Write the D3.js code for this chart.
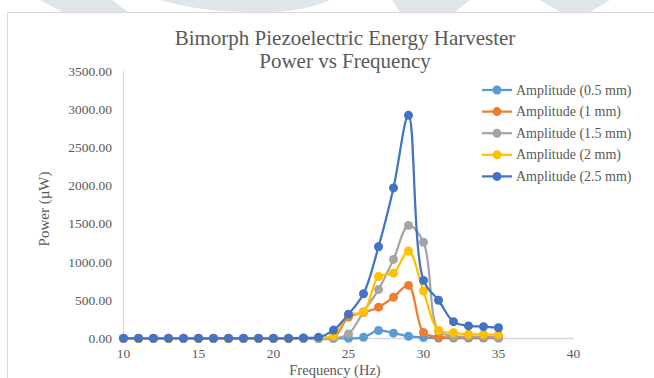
<!DOCTYPE html>
<html>
<head>
  <meta charset='utf-8'>
  <title>Bimorph Piezoelectric Energy Harvester</title>
  <style type='text/css'>
body{
  margin:0;
  background:#fff;
}
svg text{
  font-family:'Liberation Serif','Times New Roman',serif;
  fill:#595959;
}
  </style>
</head>
<body>
<div id='chartContainer'></div>

<script src='https://d3js.org/d3.v7.min.js'></script>
<script type='text/javascript'>

// data (Hz, µW)
var freq    = [10,11,12,13,14,15,16,17,18,19,20,21,22,23,24,25,26,27,28,29,30,31,32,33,34,35];
var amp05   = [0,0,0,0,0,0,0,0,0,0,0,0,0,0,0,2,15,105,70,30,12,5,5,5,5,5];
var amp1    = [0,0,0,0,0,0,0,0,0,0,0,0,0,0,5,280,340,410,540,695,80,20,15,12,12,10];
var amp15   = [0,0,0,0,0,0,0,0,0,0,0,0,0,0,0,60,350,640,1035,1480,1260,100,30,25,25,20];
var amp2    = [0,0,0,0,0,0,0,0,0,0,0,0,5,10,35,310,345,810,855,1145,620,105,75,55,55,50];
var amp25   = [3,3,3,3,3,3,3,3,3,3,3,3,8,15,110,318,585,1200,1970,2920,760,500,220,165,155,140];
var seriesNames = ['Amplitude (0.5 mm)','Amplitude (1 mm)','Amplitude (1.5 mm)','Amplitude (2 mm)','Amplitude (2.5 mm)'];
var seriesValues = [amp05, amp1, amp15, amp2, amp25];
var xTicks = [10,15,20,25,30,35,40];
var yTicks = [0,500,1000,1500,2000,2500,3000,3500];

var colors = ['#5B9BD5','#ED7D31','#A5A5A5','#FFC000','#4472C4'];

var W = 654, H = 378;
var svg = d3.select('#chartContainer').append('svg')
    .attr('width', W).attr('height', H);

// faint watermark behind the chart (top strip)
var mark = svg.append('g').attr('fill', '#dfe6ea');
mark.append('path').attr('d', 'M40,0 L112,0 L128,12 L62,12 Z');
mark.append('path').attr('d', 'M160,0 L330,0 Q300,14 250,12 Q200,12 160,0 Z');
mark.append('path').attr('d', 'M392,0 L470,0 L455,12 L400,12 Z');
mark.append('path').attr('d', 'M540,0 L610,0 L590,12 L560,12 Z');

// chart frame
svg.append('path')
    .attr('d', 'M7.5,' + H + ' L7.5,12.5 L' + W + ',12.5')
    .attr('fill', 'none')
    .attr('stroke', '#d9d9d9');

var x = d3.scaleLinear().domain([10, 40]).range([123.5, 573.5]);
var y = d3.scaleLinear().domain([0, 3500]).range([338.5, 71]);

// axes lines
svg.append('line')
    .attr('x1', x(10)).attr('x2', x(40))
    .attr('y1', y(0)).attr('y2', y(0))
    .attr('stroke', '#d9d9d9').attr('stroke-width', 1.5);
svg.append('line')
    .attr('x1', x(10)).attr('x2', x(10))
    .attr('y1', y(0)).attr('y2', y(3500))
    .attr('stroke', '#d9d9d9').attr('stroke-width', 1);

// tick labels
svg.selectAll('.ylab').data(yTicks).enter().append('text')
    .attr('class', 'ylab')
    .attr('x', 112)
    .attr('y', function (d) { return y(d) + 4.5; })
    .attr('text-anchor', 'end')
    .style('font-size', '13.5px')
    .text(function (d) { return d3.format('.2f')(d); });

svg.selectAll('.xlab').data(xTicks).enter().append('text')
    .attr('class', 'xlab')
    .attr('x', function (d) { return x(d); })
    .attr('y', 357.5)
    .attr('text-anchor', 'middle')
    .style('font-size', '13.5px')
    .text(function (d) { return d; });

// axis titles
svg.append('text')
    .attr('x', 335).attr('y', 374.5)
    .attr('text-anchor', 'middle')
    .style('font-size', '14.5px')
    .text('Frequency (Hz)');
svg.append('text')
    .attr('transform', 'translate(49,209) rotate(-90)')
    .attr('text-anchor', 'middle')
    .style('font-size', '15px')
    .text('Power (µW)');

// title
svg.selectAll('.title').data(['Bimorph Piezoelectric Energy Harvester', 'Power vs Frequency'])
  .enter().append('text')
    .attr('class', 'title')
    .attr('x', 345)
    .attr('y', function (d, i) { return 45 + i * 23; })
    .attr('text-anchor', 'middle')
    .style('font-size', '21px')
    .text(function (d) { return d; });

// series lines + markers
var line = d3.line()
    .x(function (d, i) { return x(freq[i]); })
    .y(function (d) { return y(d); })
    .curve(d3.curveCatmullRom.alpha(0.5));

seriesValues.forEach(function (vals, s) {
  var g = svg.append('g');
  g.append('path')
      .datum(vals)
      .attr('d', line)
      .attr('fill', 'none')
      .attr('stroke', colors[s])
      .attr('stroke-width', 2.25)
      .attr('stroke-linejoin', 'round');
  g.selectAll('circle').data(vals).enter().append('circle')
      .attr('cx', function (d, i) { return x(freq[i]); })
      .attr('cy', function (d) { return y(d); })
      .attr('r', 4.5)
      .attr('fill', colors[s]);
});

// legend
var legend = svg.selectAll('.leg').data(seriesNames).enter().append('g')
    .attr('class', 'leg')
    .attr('transform', function (d, i) { return 'translate(0,' + (90 + i * 21.6) + ')'; });
legend.append('line')
    .attr('x1', 482).attr('x2', 512)
    .attr('stroke', function (d, i) { return colors[i]; })
    .attr('stroke-width', 2.25);
legend.append('circle')
    .attr('cx', 497).attr('r', 4.5)
    .attr('fill', function (d, i) { return colors[i]; });
legend.append('text')
    .attr('x', 516).attr('y', 4.5)
    .style('font-size', '14px')
    .text(function (d) { return d; });

</script>
</body>
</html>
